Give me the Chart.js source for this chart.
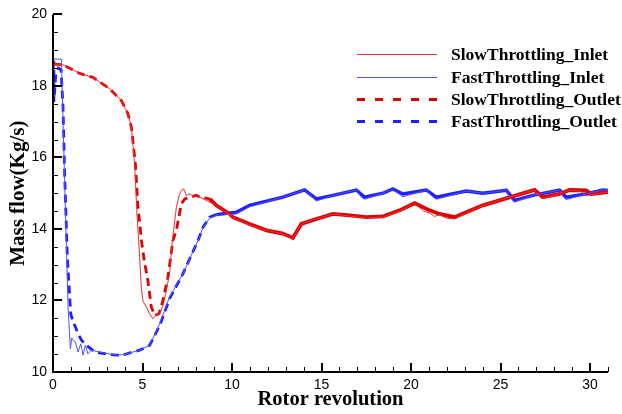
<!DOCTYPE html>
<html>
<head>
<meta charset="utf-8">
<script src="https://cdn.jsdelivr.net/npm/chart.js@4.4.1/dist/chart.umd.min.js"></script>
<style>
html,body{margin:0;padding:0;background:#fff;}
#wrap{width:622px;height:414px;position:relative;}
</style>
</head>
<body>
<div id="wrap"><canvas id="c" width="622" height="414"></canvas></div>
<script>
// ---------- data ----------
const seriesNames = ['SlowThrottling_Inlet', 'FastThrottling_Inlet', 'SlowThrottling_Outlet', 'FastThrottling_Outlet'];
const xTickValues = [0, 5, 10, 15, 20, 25, 30];
const yTickValues = [10, 12, 14, 16, 18, 20];

const slowInletX = [0, 0.56, 1.49, 2.23, 3.17, 3.82, 4.19, 4.38, 4.56, 4.69, 4.84, 4.94, 5.03, 5.21, 5.4, 5.58, 5.77, 5.95, 6.14, 6.3, 6.51, 6.67, 6.89, 7.05, 7.17, 7.3, 7.45, 7.6, 7.73, 8.19, 9.12, 10.05, 10.98, 11.92, 12.84, 13.4, 13.87, 14.71, 15.63, 16.57, 17.5, 18.43, 19.36, 20.2, 20.7, 21.04, 21.3, 21.59, 22.0, 22.43, 23.08, 24.01, 24.94, 25.87, 26.9, 27.2, 27.36, 28.29, 28.85, 29.5, 29.78, 30.06, 30.99];
const slowInletY = [18.61, 18.59, 18.35, 18.24, 17.92, 17.59, 17.22, 16.84, 15.82, 14.42, 13.2, 12.3, 11.98, 11.82, 11.62, 11.49, 11.6, 11.62, 11.85, 12.2, 12.75, 13.68, 14.6, 14.95, 15.08, 15.12, 14.94, 14.98, 14.95, 14.89, 14.66, 14.33, 14.1, 13.96, 13.87, 13.73, 14.14, 14.28, 14.42, 14.36, 14.31, 14.33, 14.5, 14.72, 14.5, 14.45, 14.35, 14.4, 14.3, 14.28, 14.45, 14.66, 14.8, 14.94, 15.09, 14.9, 14.85, 14.98, 15.09, 15.05, 14.92, 14.96, 15.03];

const fastInletX = [0, 0.47, 0.55, 0.69, 0.84, 0.97, 1.05, 1.12, 1.25, 1.4, 1.55, 1.68, 1.81, 1.95, 2.14, 2.61, 3.0, 3.54, 4.0, 4.47, 4.84, 5.4, 5.96, 6.51, 7.26, 8.1, 8.38, 8.75, 9.12, 9.6, 10.24, 10.98, 12.84, 14.05, 14.5, 14.71, 15.63, 16.94, 17.2, 17.4, 18.43, 18.98, 19.4, 19.54, 20.85, 21.2, 21.41, 23.08, 24.01, 25.32, 25.6, 25.78, 26.8, 28.29, 28.5, 28.66, 29.78, 30.71, 30.99];
const fastInletY = [18.75, 18.75, 17.2, 14.61, 11.82, 10.65, 10.95, 10.89, 10.84, 10.56, 10.79, 10.47, 10.75, 10.51, 10.61, 10.56, 10.52, 10.47, 10.49, 10.56, 10.61, 10.75, 11.35, 12.1, 12.75, 13.68, 14.05, 14.3, 14.38, 14.4, 14.42, 14.62, 14.89, 15.09, 14.9, 14.78, 14.94, 15.09, 14.9, 14.83, 15.0, 15.12, 14.95, 14.9, 15.09, 14.9, 14.83, 15.06, 15.0, 15.08, 14.85, 14.75, 14.94, 15.09, 14.9, 14.82, 14.98, 15.09, 15.08];

const slowOutletX = [0, 0.56, 1.49, 2.23, 3.17, 3.82, 4.19, 4.38, 4.6, 4.75, 4.94, 5.1, 5.3, 5.49, 5.68, 5.92, 6.14, 6.42, 6.7, 6.89, 7.17, 7.36, 8.0, 8.19, 8.75, 9.12, 9.86, 10.05, 10.98, 11.92, 12.84, 13.4, 13.87, 14.71, 15.63, 16.57, 17.5, 18.43, 19.36, 20.2, 21.04, 21.59, 22.43, 23.08, 24.01, 24.94, 25.87, 26.9, 27.36, 28.29, 28.85, 29.78, 30.06, 30.99];
const slowOutletY = [18.61, 18.59, 18.35, 18.24, 17.92, 17.59, 17.22, 16.84, 15.82, 14.6, 13.68, 13.1, 12.56, 11.82, 11.58, 11.63, 12.0, 12.65, 13.68, 13.96, 14.7, 14.84, 14.94, 14.89, 14.84, 14.66, 14.42, 14.33, 14.14, 13.96, 13.87, 13.75, 14.14, 14.28, 14.42, 14.38, 14.33, 14.35, 14.52, 14.72, 14.52, 14.42, 14.33, 14.47, 14.66, 14.8, 14.94, 15.09, 14.89, 14.98, 15.09, 15.08, 14.98, 15.03];

const fastOutletX = [0, 0.05, 0.15, 0.3, 0.45, 0.56, 0.65, 0.8, 0.99, 1.12, 1.25, 1.4, 1.59, 1.86, 2.33, 3.0, 3.54, 4.0, 4.47, 4.84, 5.4, 5.96, 6.51, 7.26, 8.1, 8.38, 8.75, 9.12, 10.24, 10.98, 12.84, 14.05, 14.71, 15.63, 16.94, 17.4, 18.43, 18.98, 19.54, 20.85, 21.41, 23.08, 24.01, 25.32, 25.78, 26.8, 28.29, 28.66, 29.78, 30.71, 30.99];
const fastOutletY = [18.7, 17.55, 18.3, 18.5, 18.45, 17.4, 15.54, 13.21, 11.63, 11.4, 11.26, 11.07, 10.89, 10.75, 10.56, 10.5, 10.47, 10.49, 10.56, 10.61, 10.75, 11.3, 12.05, 12.75, 13.68, 14.05, 14.33, 14.4, 14.47, 14.66, 14.89, 15.09, 14.84, 14.94, 15.09, 14.89, 15.0, 15.12, 14.98, 15.09, 14.89, 15.06, 15.0, 15.08, 14.8, 14.94, 15.09, 14.89, 14.98, 15.09, 15.08];

// ---------- styling ----------
const RED = '#e00000';
const BLUE = '#1f1fff';
const toPts = (xs, ys) => xs.map((x, i) => ({x, y: ys[i]}));

const dashUntil = (limit) => (ctx) => (ctx.p0.parsed.x < limit ? [8, 5] : []);
const widthAfter = (limit, thin, thick) => (ctx) => (ctx.p0.parsed.x < limit ? thin : thick);

const datasets = [
  {label: seriesNames[0], data: toPts(slowInletX, slowInletY), borderColor: '#e83030', borderWidth: 1, order: 1, legendDash: []},
  {label: seriesNames[1], data: toPts(fastInletX, fastInletY), borderColor: '#5050ff', borderWidth: 1, order: 1, legendDash: []},
  {label: seriesNames[2], data: toPts(slowOutletX, slowOutletY), borderColor: RED, borderWidth: 2.8, order: 2, legendDash: [8, 10],
   segment: {borderDash: dashUntil(8.2), borderWidth: widthAfter(8.2, 2.8, 3.8)}},
  {label: seriesNames[3], data: toPts(fastOutletX, fastOutletY), borderColor: BLUE, borderWidth: 2.8, order: 3, legendDash: [8, 10],
   segment: {borderDash: dashUntil(9.0), borderWidth: widthAfter(9.0, 2.8, 3.4)}}
];

const X_MIN = 0, X_MAX = 31, X_MINOR = 1;
const Y_MIN = 10, Y_MAX = 20, Y_MINOR = 0.5;

const axesPlugin = {
  id: 'axesTicks',
  afterDatasetsDraw(chart) {
    const {ctx, chartArea: a, scales: {x, y}} = chart;
    ctx.save();
    ctx.strokeStyle = '#000';
    ctx.lineCap = 'butt';
    ctx.lineWidth = 2;
    ctx.beginPath();
    ctx.moveTo(a.left, y.getPixelForValue(Y_MAX));
    ctx.lineTo(a.left, a.bottom);
    ctx.lineTo(x.getPixelForValue(X_MAX), a.bottom);
    ctx.stroke();
    for (let v = X_MIN; v <= X_MAX + 1e-9; v += X_MINOR) {
      const major = xTickValues.includes(v);
      const px = Math.round(x.getPixelForValue(v)) + (major ? 0 : 0.5);
      ctx.lineWidth = major ? 2 : 1;
      ctx.beginPath();
      ctx.moveTo(px, a.bottom);
      ctx.lineTo(px, a.bottom - (major ? 9 : 5));
      ctx.stroke();
    }
    for (let v = Y_MIN; v <= Y_MAX + 1e-9; v += Y_MINOR) {
      const major = yTickValues.includes(v);
      const py = Math.round(y.getPixelForValue(v)) + (major ? 0 : 0.5);
      ctx.lineWidth = major ? 2 : 1;
      ctx.beginPath();
      ctx.moveTo(a.left, py);
      ctx.lineTo(a.left + (major ? 9 : 5), py);
      ctx.stroke();
    }
    ctx.restore();
  }
};

const legendPlugin = {
  id: 'customLegend',
  afterDraw(chart) {
    const {ctx, chartArea: a} = chart;
    const x0 = a.left + 304, x1 = x0 + 80, tx = x1 + 14;
    const y0 = a.top + 40, dy = 22.2;
    ctx.save();
    ctx.font = 'bold 17.5px "Liberation Serif", "Times New Roman", serif';
    ctx.textBaseline = 'middle';
    ctx.fillStyle = '#000';
    chart.data.datasets.forEach((ds, i) => {
      const yy = Math.round(y0 + i * dy) + 0.5;
      ctx.strokeStyle = ds.borderColor;
      ctx.lineWidth = ds.borderWidth;
      ctx.setLineDash(ds.legendDash);
      ctx.beginPath();
      ctx.moveTo(x0, yy);
      ctx.lineTo(x1, yy);
      ctx.stroke();
      ctx.setLineDash([]);
      ctx.fillText(ds.label, tx, yy + 1);
    });
    ctx.restore();
  }
};

new Chart(document.getElementById('c'), {
  type: 'line',
  data: {datasets},
  options: {
    responsive: false,
    animation: false,
    devicePixelRatio: 1,
    layout: {padding: {top: 13, right: 14, left: 0, bottom: 0}},
    plugins: {legend: {display: false}, tooltip: {enabled: false}},
    elements: {point: {radius: 0}, line: {tension: 0, fill: false}},
    scales: {
      x: {
        type: 'linear', min: X_MIN, max: X_MAX,
        grid: {display: false, drawTicks: false},
        border: {display: false},
        afterBuildTicks: (s) => { s.ticks = xTickValues.map(v => ({value: v})); },
        afterFit: (s) => { s.height = 42; },
        ticks: {padding: 5, color: '#000', autoSkip: false, maxRotation: 0,
                font: {family: '"Liberation Sans", Arial, sans-serif', size: 14}},
        title: {display: true, text: 'Rotor revolution', color: '#000',
                font: {family: '"Liberation Serif", "Times New Roman", serif', size: 20.5, weight: 'bold'},
                padding: {top: 0, bottom: 2}}
      },
      y: {
        type: 'linear', min: Y_MIN, max: Y_MAX,
        grid: {display: false, drawTicks: false},
        border: {display: false},
        afterBuildTicks: (s) => { s.ticks = yTickValues.map(v => ({value: v})); },
        afterFit: (s) => { s.width = 53; },
        ticks: {padding: 6, color: '#000',
                font: {family: '"Liberation Sans", Arial, sans-serif', size: 14}},
        title: {display: true, text: 'Mass flow(Kg/s)', color: '#000',
                font: {family: '"Liberation Serif", "Times New Roman", serif', size: 21, weight: 'bold'},
                padding: {top: 6, bottom: 0}}
      }
    }
  },
  plugins: [axesPlugin, legendPlugin]
});
</script>
</body>
</html>
